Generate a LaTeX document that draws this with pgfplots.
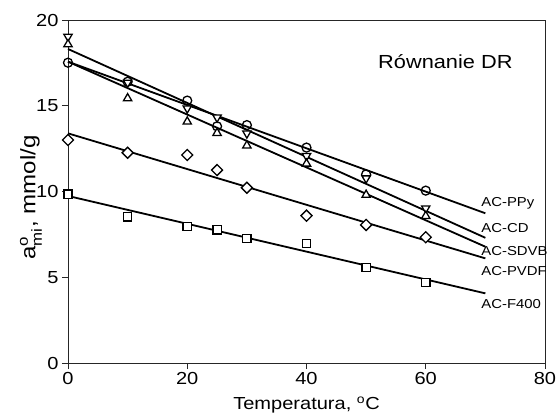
\documentclass[border=0pt]{standalone}
\usepackage{fontspec}
\setmainfont{Liberation Sans}[FakeStretch=1.15]
\usepackage{amsmath}
\usepackage{pgfplots}
\pgfplotsset{compat=1.18}
\begin{document}
\begin{tikzpicture}
\begin{axis}[name=ax, scale only axis, width=477bp, height=343bp,
  xmin=0, xmax=80, ymin=0, ymax=20,
  xtick={0,20,40,60,80}, ytick={0,5,10,15,20},
  tick align=outside, tick pos=left, major tick length=6bp,
  axis line style={line width=0.9bp, black!85},
  every tick/.style={line width=0.9bp, black!85},
  /pgf/number format/assume math mode=true,
  ticklabel style={font=\fontsize{17.5}{20}\selectfont},
  every axis x label/.style={at={(axis description cs:0.5,0)}, anchor=center, yshift=-42bp, font=\fontsize{17.5}{20}\selectfont},
  every axis y label/.style={at={(axis description cs:0,0.5)}, anchor=center, rotate=90, yshift=37bp, xshift=-6bp, font=\fontsize{21}{24}\selectfont},
  xlabel={Temperatura, \textsuperscript{o}C},
  ylabel={a$^{\text{o}}_{\text{mi}}$, mmol/g},
  clip=false,
]
% fitted lines
\addplot[black, line width=1.8bp] coordinates {(0,17.57) (70,8.73)};
\addplot[black, line width=1.8bp] coordinates {(0,18.31) (70,7.30)};
\addplot[black, line width=1.8bp] coordinates {(0,17.57) (70,6.78)};
\addplot[black, line width=1.8bp] coordinates {(0,13.39) (70,6.10)};
\addplot[black, line width=1.8bp] coordinates {(0,9.74) (70,4.06)};
% data points
\addplot[only marks, mark=o, mark size=4.5bp, mark options={line width=1.3bp, fill=white, draw=black}]
  coordinates {(0,17.51) (10,16.40) (20,15.30) (25,13.80) (30,13.87) (40,12.56) (50,11.00) (60,10.05)};
\addplot[only marks, mark=triangle*, mark size=4.8bp, mark options={line width=1.3bp, fill=white, draw=black, rotate=180}]
  coordinates {(0,19.03) (10,16.35) (20,14.85) (25,14.32) (30,13.39) (40,12.07) (50,10.77) (60,9.02)};
\addplot[only marks, mark=triangle*, mark size=4.8bp, mark options={line width=1.3bp, fill=white, draw=black}]
  coordinates {(0,18.58) (10,15.43) (20,14.07) (25,13.41) (30,12.68) (40,11.62) (50,9.80) (60,8.57)};
\addplot[only marks, mark=square*, mark size=3.9bp, mark options={line width=1.3bp, fill=white, draw=black, rotate=45}]
  coordinates {(0,13.00) (10,12.26) (20,12.13) (25,11.25) (30,10.22) (40,8.59) (50,8.05) (60,7.33)};
\addplot[only marks, mark=square*, mark size=4.1bp, mark options={line width=1.3bp, fill=white, draw=black}]
  coordinates {(0,9.84) (10,8.52) (20,7.95) (25,7.76) (30,7.27) (40,6.98) (50,5.56) (60,4.68)};
% labels
\node[anchor=west, inner sep=0pt, font=\fontsize{13}{15}\selectfont] at (axis cs:69.3,9.33) {AC-PPy};
\node[anchor=west, inner sep=0pt, font=\fontsize{13}{15}\selectfont] at (axis cs:69.3,7.87) {AC-CD};
\node[anchor=west, inner sep=0pt, font=\fontsize{13}{15}\selectfont] at (axis cs:69.3,6.53) {AC-SDVB};
\node[anchor=west, inner sep=0pt, font=\fontsize{13}{15}\selectfont] at (axis cs:69.3,5.36) {AC-PVDF};
\node[anchor=west, inner sep=0pt, font=\fontsize{13}{15}\selectfont] at (axis cs:69.3,3.44) {AC-F400};
\node[anchor=west, inner sep=0pt, font=\fontsize{19}{22}\selectfont] at (axis cs:52,17.55) {Równanie DR};
\end{axis}
\pgfresetboundingbox
\path[use as bounding box] ([shift={(-68bp,-53bp)}]ax.south west) rectangle ([shift={(13bp,20bp)}]ax.north east);
\end{tikzpicture}
\end{document}
